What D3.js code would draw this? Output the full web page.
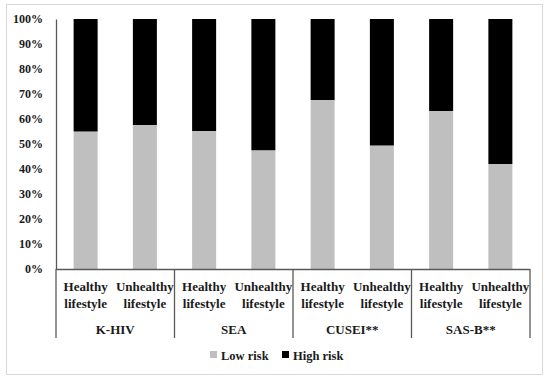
<!DOCTYPE html>
<html><head><meta charset="utf-8">
<script src="https://cdn.jsdelivr.net/npm/d3@7"></script>
<style>body{margin:0;background:#fff}svg{display:block}text{font-family:"Liberation Serif","Times New Roman",serif;font-weight:bold;fill:#1a1a1a}</style>
</head><body><svg id="c" width="550" height="379"></svg>
<script>
const groups = ["K-HIV", "SEA", "CUSEI**", "SAS-B**"];
const subs = ["Healthy lifestyle", "Unhealthy lifestyle"];
const lowRisk = [55, 57.6, 55.2, 47.5, 67.6, 49.4, 63.2, 42];
const highRisk = lowRisk.map(v => 100 - v);
const yTicks = [0,10,20,30,40,50,60,70,80,90,100];
const seriesNames = ["Low risk", "High risk"];
const colors = ["#bfbfbf", "#000000"];

(function(){
const svg = d3.select("#c");
svg.append("rect").attr("x",6.5).attr("y",4.5).attr("width",536).attr("height",370)
  .attr("fill","#fff").attr("stroke","#d9d9d9");

const mL = 56, mR = 530, mT = 19, mB = 269;
const cats = [];
groups.forEach(g => subs.forEach(s => cats.push(g + "|" + s)));
const x = d3.scaleBand().domain(cats).range([mL, mR]).paddingInner(0.595).paddingOuter(0.2975);
const y = d3.scaleLinear().domain([0,100]).range([mB, mT]);

const data = cats.map((c,i) => ({c, low: lowRisk[i], high: highRisk[i]}));
const stack = d3.stack().keys(["low","high"])(data);
svg.selectAll("g.s").data(stack).join("g").attr("class","s").attr("fill",(d,i)=>colors[i])
  .selectAll("rect").data(d=>d).join("rect")
  .attr("x", d=>x(d.data.c)).attr("width", x.bandwidth())
  .attr("y", d=>y(d[1])).attr("height", d=>y(d[0])-y(d[1]));

// y axis
const ya = svg.append("g").attr("transform",`translate(${mL},0)`)
  .call(d3.axisLeft(y).tickValues(yTicks).tickFormat(d=>d+"%").tickSize(0).tickPadding(13));
ya.select(".domain").attr("stroke","#595959").attr("stroke-width",1.3);
ya.selectAll("text").attr("font-size",12).style("font-family","'Liberation Serif',serif").style("font-weight","bold").attr("fill","#1a1a1a");

// x axis baseline
svg.append("line").attr("x1",mL).attr("x2",mR).attr("y1",mB+0.5).attr("y2",mB+0.5).attr("stroke","#595959").attr("stroke-width",1.3);
const gw = (mR-mL)/groups.length;
d3.range(groups.length+1).forEach(i=>{
  svg.append("line").attr("x1",mL+i*gw).attr("x2",mL+i*gw).attr("y1",mB).attr("y2",338)
    .attr("stroke","#595959").attr("stroke-width",1.3);
});
cats.forEach((c,i)=>{
  const cx = x(c)+x.bandwidth()/2;
  const words = subs[i%2].split(" ");
  const t = svg.append("text").attr("x",cx).attr("text-anchor","middle").attr("font-size",13);
  t.append("tspan").attr("x",cx).attr("y",291).text(words[0]);
  t.append("tspan").attr("x",cx).attr("y",308).text(words[1]);
});
groups.forEach((g,i)=>{
  svg.append("text").attr("x",mL+(i+0.5)*gw).attr("y",334).attr("text-anchor","middle").attr("font-size",13).text(g);
});

// legend
const leg = [{x:210,tx:221},{x:282,tx:293}];
seriesNames.forEach((n,i)=>{
  svg.append("rect").attr("x",leg[i].x).attr("y",351).attr("width",7).attr("height",7).attr("fill",colors[i]);
  svg.append("text").attr("x",leg[i].tx).attr("y",360).attr("font-size",12.5).text(n);
});
})();
</script></body></html>
